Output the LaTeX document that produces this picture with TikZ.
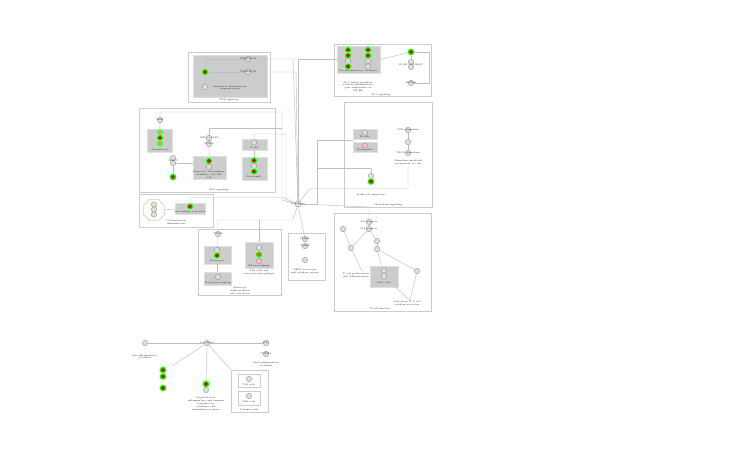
\documentclass[tikz,border=0pt]{standalone}
\usetikzlibrary{fit,shapes.geometric}
\pgfdeclarelayer{bg}\pgfdeclarelayer{ln}
\pgfsetlayers{bg,ln,main}
\tikzset{
 obox/.style={draw=gray!40, line width=0.5pt, fill=white, inner sep=0pt},
 gbox/.style={draw=gray!25, fill=gray!40, line width=0.4pt, inner sep=0pt},
 gene/.style={circle, draw=gray!85, fill=gray!25, line width=0.4pt, minimum size=5.4pt, inner sep=0pt},
 pgene/.style={gene, fill=red!25},
 hit/.style={circle, draw=green, fill=red!90!black, line width=1.1pt, minimum size=5pt, inner sep=0pt,
   preaction={draw=green!35, line width=2.4pt}},
 pale/.style={hit, draw=green!80, fill=red!45},
 lbl/.style={font=\fontsize{2.3}{2.8}\selectfont, inner sep=0pt, align=center, text=black!85},
 conn/.style={draw=gray!50, line width=0.45pt},
}
\begin{document}
\begin{tikzpicture}[x=1pt,y=-1pt]
\useasboundingbox (0,0) rectangle (737,455);

% ---------- boxes ----------
\begin{pgfonlayer}{bg}
\fill[white] (0,0) rectangle (737,455);
\node[obox, fit={(188,52)(270,102)}] (A) {};
\node[gbox, fit={(193,55)(267,97)}] (Ag) {};
\node[obox, fit={(334,44)(431,96)}] (B) {};
\node[gbox, fit={(337,46)(380,73)}] (Bg) {};
\node[obox, fit={(139,108)(275,192)}] (C) {};
\node[gbox, fit={(147,129)(172,152)}] (C1) {};
\node[gbox, fit={(193,156)(226,179)}] (C2) {};
\node[gbox, fit={(242,139)(267,150)}] (C3) {};
\node[gbox, fit={(242,157)(267,180)}] (C4) {};
\node[obox, fit={(139,194)(213,227)}] (F) {};
\node[regular polygon, regular polygon sides=8, draw=gray!40, fill=yellow!6, minimum size=23pt, inner sep=0pt] (Foct) at (154,210) {};
\node[gbox, fit={(175,203)(205,214)}] (F1) {};
\node[obox, fit={(198,229)(281,295)}] (G) {};
\node[gbox, fit={(204,246)(231,264)}] (G1) {};
\node[gbox, fit={(204,272)(231,285)}] (G2) {};
\node[gbox, fit={(245,242)(273,268)}] (G3) {};
\node[obox, fit={(288,233)(325,280)}] (H) {};
\node[obox, fit={(344,102)(432,207)}] (D) {};
\node[gbox, fit={(353,129)(377,139)}] (D1) {};
\node[gbox, fit={(353,142)(377,152)}] (D2) {};
\node[obox, fit={(334,213)(431,311)}] (E) {};
\node[gbox, fit={(370,266)(398,287)}] (E1) {};
\node[obox, fit={(231,370)(268,412)}] (I) {};
\node[obox, fit={(238,374)(260,387)}] (I1) {};
\node[obox, fit={(238,391)(260,405)}] (I2) {};
\end{pgfonlayer}

% ---------- hub ----------
\node[gene, minimum size=6pt] (hub) at (298,204) {};

% ---------- box A ----------
\node[gene] (a1) at (248,59) {};
\node[gene] (a2) at (248,72) {};
\node[hit] (a3) at (205,72) {};
\node[gene] (a4) at (205,87) {};
\node[lbl] at (248,59) {TNFRSF1A};
\node[lbl] at (248,72) {TNFRSF1B};
\node[lbl] at (230,88) {Immune \& inflammatory\\response genes};
\node[lbl] at (229,100) {TNF signaling};

% ---------- box B ----------
\node[hit] (b11) at (348,50) {};
\node[hit] (b12) at (348,55.5) {};
\node[gene] (b13) at (348,61) {};
\node[hit] (b14) at (348,66.5) {};
\node[hit] (b21) at (368,50) {};
\node[hit] (b22) at (368,55.5) {};
\node[gene] (b23) at (368,61) {};
\node[gene] (b24) at (368,66.5) {};
\node[lbl] at (358,71) {Pro-inflammatory cytokines};
\node[lbl] at (358,86.5) {IL-1 family members\\activate inflammatory\\gene expression via\\NF-kB};
\node[hit] (bR) at (411,52) {};
\node[gene] (bR2) at (411,62) {};
\node[gene] (bR3) at (411,67) {};
\node[gene] (bR4) at (411,83) {};
\node[lbl] at (411,64.5) {IL1R1 / IL1RAP};
\node[lbl] at (411,83) {MYD88};
\node[lbl] at (381,95) {IL-1 signaling};

% ---------- box C ----------
\node[gene] (c1) at (160,120) {};
\node[lbl] at (160,120) {IL6R};
\node[pale] (c11) at (160,132.5) {};
\node[hit] (c12) at (160,138) {};
\node[pale] (c13) at (160,143.5) {};
\node[lbl] at (160,149.5) {Granulocyte};
\node[gene] (c2) at (173,158) {};
\node[gene] (c3) at (173,163) {};
\node[lbl] at (173,160.5) {IL6ST};
\node[hit] (c4) at (173,177) {};
\node[gene] (c5) at (209,138) {};
\node[gene] (c6) at (209,144) {};
\node[lbl] at (209,138) {JAK1 / JAK2};
\node[lbl] at (209,144) {STAT3};
\node[hit] (c7) at (209,161) {};
\node[gene] (c8) at (209,167) {};
\node[lbl] at (209,174.5) {Monocyte, macrophage,\\dendritic cell, NK\\cells};
\node[gene] (c9) at (254,142.5) {};
\node[lbl] at (254,147.5) {T cells};
\node[hit] (c10) at (254,160.5) {};
\node[gene] (c14) at (254,166) {};
\node[hit] (c15) at (254,171.5) {};
\node[lbl] at (254,177) {Neutrophil};
\node[lbl] at (219,189.5) {IL-6 signaling};

% ---------- box F ----------
\node[gene] (f1) at (154,204.5) {};
\node[gene] (f2) at (154,209.5) {};
\node[gene] (f3) at (154,214.5) {};
\node[hit] (f4) at (190,206.5) {};
\node[lbl] at (190,211.5) {Macrophage activation};
\node[lbl] at (176,222.5) {Cell-mediated\\inflammation};

% ---------- box G ----------
\node[gene] (g1) at (218,234) {};
\node[lbl] at (218,234) {CSF1R};
\node[gene] (g2) at (217,250) {};
\node[hit] (g3) at (217,255.5) {};
\node[lbl] at (217,261) {Monocytes};
\node[gene] (g4) at (218,277) {};
\node[lbl] at (218,282.5) {M-type macrophage};
\node[gene] (g5) at (259,247.5) {};
\node[hit, fill=orange!60!red] (g6) at (259,254.5) {};
\node[pgene] (g7) at (259,261) {};
\node[lbl] at (259,266) {M2 macrophage};
\node[lbl] at (259,272.5) {Th2 cells and\\activated macrophages};
\node[lbl] at (240,291) {Monocyte\\differentiation\\and activation};

% ---------- box H ----------
\node[gene] (h1) at (305,239) {};
\node[gene] (h2) at (305,246) {};
\node[gene] (h3) at (305,260) {};
\node[lbl] at (305,239) {IL2RA};
\node[lbl] at (305,246) {IL2RB};
\node[lbl] at (305,271.5) {NFAT activation\\and cytokine release};

% ---------- box D ----------
\node[gene] (d6) at (365,132.5) {};
\node[lbl] at (365,137) {B cells};
\node[pgene] (d7) at (365,145.5) {};
\node[lbl] at (365,150) {Eosinophils};
\node[gene] (d1) at (408,130) {};
\node[gene] (d2) at (408,142) {};
\node[gene] (d3) at (408,153) {};
\node[lbl] at (408,130) {CCR chemokine};
\node[lbl] at (408,153) {CXCR chemokine};
\node[lbl] at (408,162.5) {Chemokine-mediated\\recruitment of cells};
\node[gene] (d4) at (371,176) {};
\node[hit] (d5) at (371,181.5) {};
\node[lbl] at (371,195) {Leukocyte migration};
\node[lbl] at (388,204.5) {Chemokine signaling};

% ---------- box E ----------
\node[gene] (e1) at (369,222) {};
\node[gene] (e2) at (369,229) {};
\node[lbl] at (369,222) {IL2 receptor};
\node[lbl] at (369,229) {IL4 receptor};
\node[gene] (e3) at (343,229) {};
\node[gene] (e4) at (351,248) {};
\node[gene] (e5) at (377,241) {};
\node[gene] (e6) at (377,249) {};
\node[gene] (e7) at (417,271) {};
\node[gene] (e8) at (384,270.5) {};
\node[gene] (e9) at (384,276.5) {};
\node[lbl] at (384,283) {Mast cells};
\node[lbl] (et1) at (356,275) {T cell proliferation\\and differentiation};
\node[lbl] (et2) at (407,303.5) {Activation of T cell\\cytokine secretion};
\node[lbl] at (380,309) {T-cell function};

% ---------- bottom ----------
\node[gene] (k1) at (145,343) {};
\node[lbl] at (145,357) {Pro-inflammatory\\cytokines};
\node[gene] (k2) at (207,343) {};
\node[lbl] at (207,343) {Cytokines};
\node[gene] (k3) at (266,343) {};
\node[gene] (k4) at (266,354) {};
\node[lbl] at (266,343) {IL10};
\node[lbl] at (266,354) {TGFB1};
\node[lbl] at (266,364.5) {Anti-inflammatory\\cytokines};
\node[hit] (k7) at (163,370) {};
\node[hit] (k8) at (163,376.5) {};
\node[hit] (k9) at (163,388) {};
\node[hit] (k5) at (206,384) {};
\node[gene] (k6) at (206,390) {};
\node[lbl] at (206,404) {Regulation of\\inflammatory and immune\\responses by\\cytokines and\\chemokine receptors};
\node[gene] (i1) at (249,379) {};
\node[lbl] at (249,385) {Th1 cells};
\node[gene] (i2) at (249,396) {};
\node[lbl] at (249,402) {Th2 cells};
\node[lbl] at (249,409.5) {T helper cells};
\node[lbl] at (298,204) {Cytokines};

% ---------- connectors ----------
\begin{pgfonlayer}{ln}
% box A
\draw[conn] (a3) |- (a1);
\draw[conn] (a3) -- (a2);
\draw[conn] (a3) -- (a4);
\draw[conn] (a1) -- (293,59) -- (hub);
\draw[conn] (a2) -- (296,72) -- (hub);
% box B
\draw[conn] (hub) -- (298,59.5) -- (Bg.west);
\draw[conn] (Bg.east) -- (bR);
\draw[conn] (bR) -- (bR2);
\draw[conn] (bR) -- (429,52) -- (429,83) -- (bR4);
% box C
\draw[conn] (c1) -- (160,112) -- (282,112) -- (282,200) -- (hub);
\draw[conn] (c5) -- (209,128) -- (282,128);
\draw[conn] (C3) -- (254,134) -- (286,134) -- (286,201) -- (hub);
\draw[conn] (c1) -- (C1);
\draw[conn] (c5) -- (c6) -- (C2);
\draw[conn] (c2) -- (c3) -- (c4);
\draw[conn] (c3) -- (193,163);
\draw[conn] (C3) -- (C4);
% box F
\draw[conn] (Foct) -- (F1);
\draw[conn] (F1) -- (190,197.5) -- (283,197.5) -- (hub);
% box G
\draw[conn] (g1) -- (218,220) -- (293,220) -- (hub);
\draw[conn] (G3) -- (259,220);
\draw[conn] (g1) -- (G1);
\draw[conn] (G1) -- (G2);
% box H
\draw[conn] (hub) -- (h1);
% box D
\draw[conn] (hub) -- (317,204) -- (317,140.5) -- (353,140.5);
\draw[conn] (317,168) -- (371,168) -- (d4);
\draw[conn] (hub) -- (310,188.5) -- (408,188.5) -- (408,166);
\draw[conn] (d1) -- (d2) -- (d3);
\draw[conn] (d4) -- (d5);
% box E
\draw[conn] (hub) -- (369,207) -- (e1);
\draw[conn] (e1) -- (e2);
\draw[conn] (e2) -- (e4);
\draw[conn] (e3) -- (e4);
\draw[conn] (e4) -- (362,271);
\draw[conn] (e2) -- (e5);
\draw[conn] (e5) -- (e6);
\draw[conn] (e6) -- (E1);
\draw[conn] (e6) -- (e7);
\draw[conn] (e7) -- (410,300.5);
\draw[conn] (E1) -- (410,300.5);
% bottom
\draw[conn] (k1) -- (k2) -- (k3);
\draw[conn] (k2) -- (172,366);
\draw[conn] (k2) -- (k5);
\draw[conn] (k2) -- (I.north west);
\end{pgfonlayer}
\end{tikzpicture}
\end{document}
